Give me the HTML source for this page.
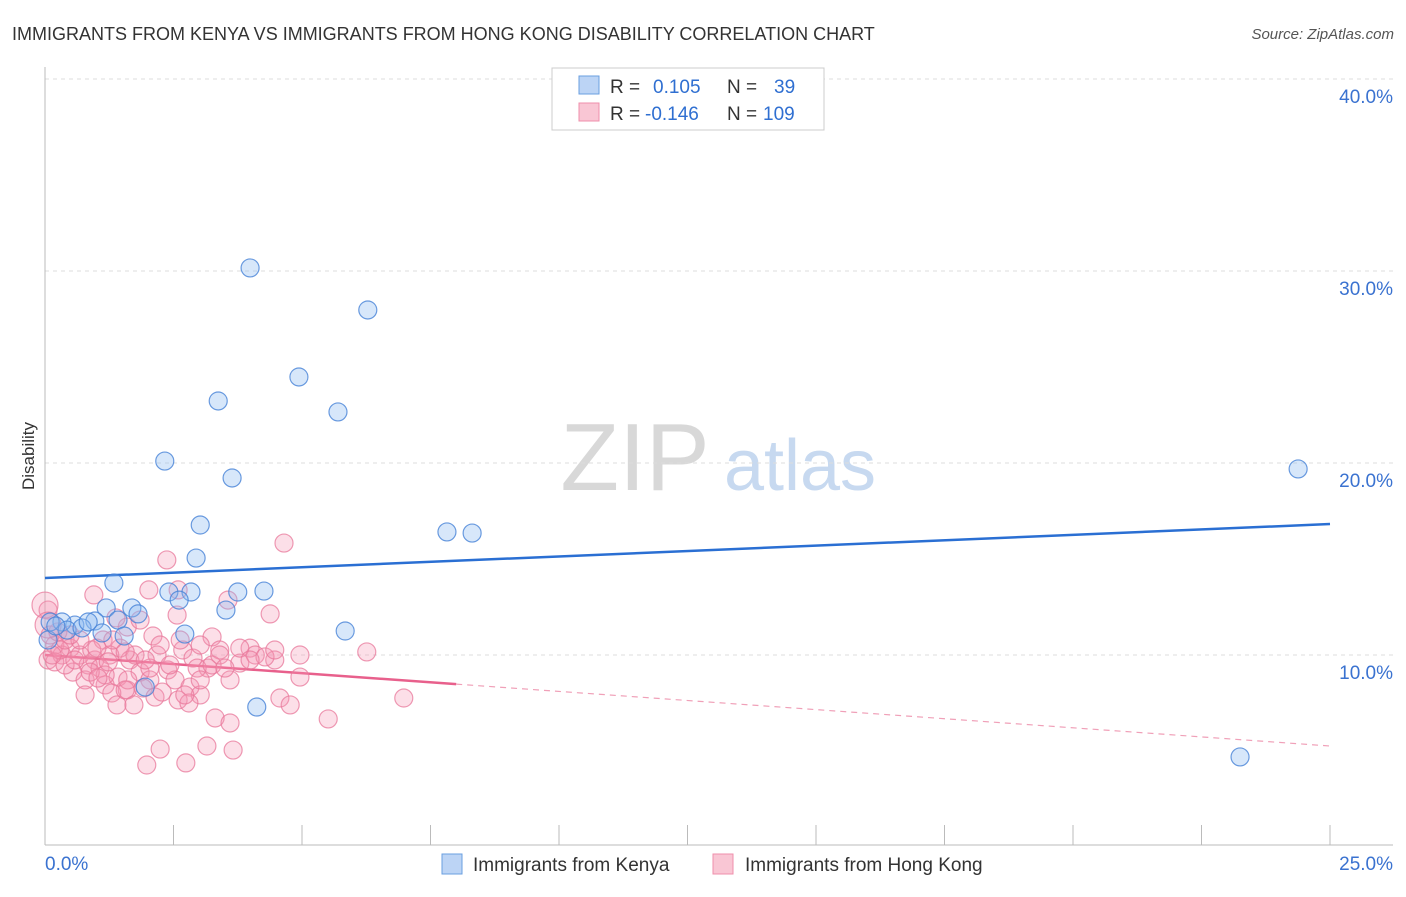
<!DOCTYPE html>
<html><head><meta charset="utf-8"><style>
body{margin:0;background:#fff;font-family:"Liberation Sans",sans-serif;}
svg text{font-family:"Liberation Sans",sans-serif;}
</style></head><body>
<svg id="chart" width="1406" height="892" xmlns="http://www.w3.org/2000/svg">
<text x="12" y="40" font-size="18" fill="#333">IMMIGRANTS FROM KENYA VS IMMIGRANTS FROM HONG KONG DISABILITY CORRELATION CHART</text>
<text x="1394" y="39" font-size="15" fill="#555" font-style="italic" text-anchor="end">Source: ZipAtlas.com</text>
<text x="34" y="456" font-size="17" fill="#333" text-anchor="middle" transform="rotate(-90 34 456)">Disability</text>
<g>
<text x="635" y="490" font-size="96" fill="#d8d8d8" font-family="Liberation Serif" text-anchor="middle">ZIP</text>
<text x="800" y="490" font-size="72" fill="#c7d9f0" text-anchor="middle">atlas</text></g>
<g id="grid"></g><g id="axes"></g><g id="lines"></g><g id="pts"></g>
<g>
<rect x="552" y="68" width="272" height="62" fill="#fff" stroke="#ccc"/>
<rect x="579" y="76" width="20" height="18" fill="#bcd4f5" stroke="#6a9fe0"/>
<rect x="579" y="103" width="20" height="18" fill="#f9c6d4" stroke="#ef8fab"/>
<text x="610" y="93" font-size="19" fill="#333">R = <tspan fill="#2f6fd1" x="653">0.105</tspan><tspan fill="#333" x="727">N =</tspan><tspan fill="#2f6fd1" x="774">39</tspan></text>
<text x="610" y="120" font-size="19" fill="#333">R = <tspan fill="#2f6fd1" x="645">-0.146</tspan><tspan fill="#333" x="727">N =</tspan><tspan fill="#2f6fd1" x="763">109</tspan></text>
</g>
<g>
<rect x="442" y="854" width="20" height="20" fill="#bcd4f5" stroke="#6a9fe0"/>
<text x="473" y="871" font-size="19" fill="#333">Immigrants from Kenya</text>
<rect x="713" y="854" width="20" height="20" fill="#f9c6d4" stroke="#ef8fab"/>
<text x="745" y="871" font-size="19" fill="#333">Immigrants from Hong Kong</text>
</g>
</svg>
<script>
const yTicks=[10,20,30,40];
const xTickLabels=["0.0%","25.0%"];
const kenyaX=[3.99,6.28,4.94,5.70,3.37,2.33,3.64,3.02,2.94,7.82,8.31,24.38,23.25,1.34,2.41,2.84,3.75,4.26,2.61,1.19,1.69,1.81,3.52,1.42,0.97,0.58,0.33,0.10,0.43,0.72,1.11,1.54,2.72,5.84,1.95,4.12,0.06,0.21,0.84];
const kenyaY=[30.16,27.97,24.48,22.66,23.23,20.10,19.22,16.77,15.05,16.41,16.35,19.69,4.69,13.75,13.28,13.28,13.28,13.33,12.86,12.45,12.45,12.14,12.34,11.82,11.77,11.56,11.72,11.72,11.30,11.41,11.15,10.99,11.09,11.25,8.33,7.29,10.78,11.51,11.72];
const hkX=[2.37,4.65,0.95,2.02,1.60,2.57,4.38,3.56,0.06,3.25,2.10,1.13,0.19,0.49,1.46,2.68,3.40,3.99,4.96,6.26,0.33,0.68,0.97,1.26,1.65,2.18,2.88,3.17,3.79,4.47,0.84,1.07,0.54,1.85,2.39,2.96,3.25,0.06,0.19,0.39,0.78,1.17,1.42,2.04,2.53,2.82,3.60,1.60,1.91,1.30,2.14,2.59,3.02,4.96,4.57,4.77,0.78,1.40,1.73,2.80,3.31,3.60,5.51,6.98,2.24,3.15,3.66,1.98,2.74,0.29,0.58,0.91,0.39,0.10,0.25,2.24,2.63,3.02,4.09,4.28,1.75,3.79,1.32,1.56,2.43,2.04,3.99,3.40,1.17,0.88,1.95,3.02,2.28,1.61,0.14,1.01,1.23,0.68,1.03,3.50,4.47,2.72,1.85,0.49,1.56,0.00,0.06,1.38,2.59];
const hkY=[14.95,15.83,13.13,13.39,11.46,12.08,12.14,12.86,12.34,10.94,10.99,10.78,10.52,10.36,10.36,10.26,10.26,10.36,10.00,10.16,10.00,10.00,9.74,10.00,9.74,10.00,9.84,9.32,9.58,9.74,9.48,9.32,9.11,9.11,9.22,9.32,9.48,9.74,9.64,9.48,8.70,8.44,8.85,8.70,8.70,8.33,8.70,8.18,8.28,8.02,7.81,7.66,7.92,8.85,7.76,7.40,7.92,7.40,7.40,7.50,6.72,6.46,6.67,7.76,5.10,5.26,5.05,4.27,4.38,10.26,9.74,10.26,10.78,11.04,11.20,10.52,10.78,10.52,10.00,9.90,10.00,10.36,10.78,10.16,9.48,9.32,9.74,10.00,8.96,9.11,9.74,8.70,8.07,8.70,10.00,10.36,9.64,10.78,8.80,9.32,10.26,7.92,11.82,11.04,8.18,12.60,11.56,11.93,13.39];
const kenyaTrend=[14.01,16.82];
const hkTrend=[10.0,5.26];
const hkSolidEnd=8.0;
const NS="http://www.w3.org/2000/svg";
const X=v=>45+v/25*1285, Y=v=>847-v*19.2;
function mk(parent,tag,attrs){const e=document.createElementNS(NS,tag);for(const k in attrs)e.setAttribute(k,attrs[k]);document.getElementById(parent).appendChild(e);return e;}
yTicks.forEach(t=>{
 const l=mk('grid','line',{x1:45,x2:1393,y1:Y(t),y2:Y(t),stroke:'#ddd','stroke-dasharray':'4 4'});
 
 
 const tx=mk('grid','text',{x:1393,y:Y(t)+24,'font-size':19,fill:'#3a72d0','text-anchor':'end'});
 tx.textContent=t.toFixed(1)+'%';
 
 
});
let a=mk('axes','line',{x1:45,x2:45,y1:67,y2:845,stroke:'#bbb'});


a=mk('axes','line',{x1:45,x2:1393,y1:845,y2:845,stroke:'#bbb'});


for(let i=0;i<=10;i++){const t=mk('axes','line',{x1:X(i*2.5),x2:X(i*2.5),y1:825,y2:845,stroke:'#bbb'});
 
 }
[[0,'start',45],[1,'end',1393]].forEach(([i,anc,x])=>{const t=mk('axes','text',{x:x,y:870,'font-size':19,fill:'#3a72d0','text-anchor':anc});t.textContent=xTickLabels[i];
 
 });
const dot=(x,y,cls,fill,stroke,r)=>{const c=mk('pts','circle',{cx:X(x),cy:Y(y),r:r,fill:fill,stroke:stroke,'stroke-width':1.2});
 
 };
hkX.forEach((x,i)=>dot(x,hkY[i],'hongkong-point','rgba(244,150,180,0.3)','rgba(232,120,155,0.75)',(i>=105&&i<=106)?13:9));
kenyaX.forEach((x,i)=>dot(x,kenyaY[i],'kenya-point','rgba(140,185,240,0.35)','rgba(70,130,215,0.8)',9));
let ln=mk('lines','line',{x1:X(0),y1:Y(kenyaTrend[0]),x2:X(25),y2:Y(kenyaTrend[1]),stroke:'#2a6fd3','stroke-width':2.5});


const hy=x=>hkTrend[0]+(hkTrend[1]-hkTrend[0])*x/25;
ln=mk('lines','line',{x1:X(0),y1:Y(hy(0)),x2:X(hkSolidEnd),y2:Y(hy(hkSolidEnd)),stroke:'#e8608c','stroke-width':2.5});


ln=mk('lines','line',{x1:X(hkSolidEnd),y1:Y(hy(hkSolidEnd)),x2:X(25),y2:Y(hy(25)),stroke:'#f0a0b8','stroke-width':1.2,'stroke-dasharray':'6 5'});


</script>
</body></html>
